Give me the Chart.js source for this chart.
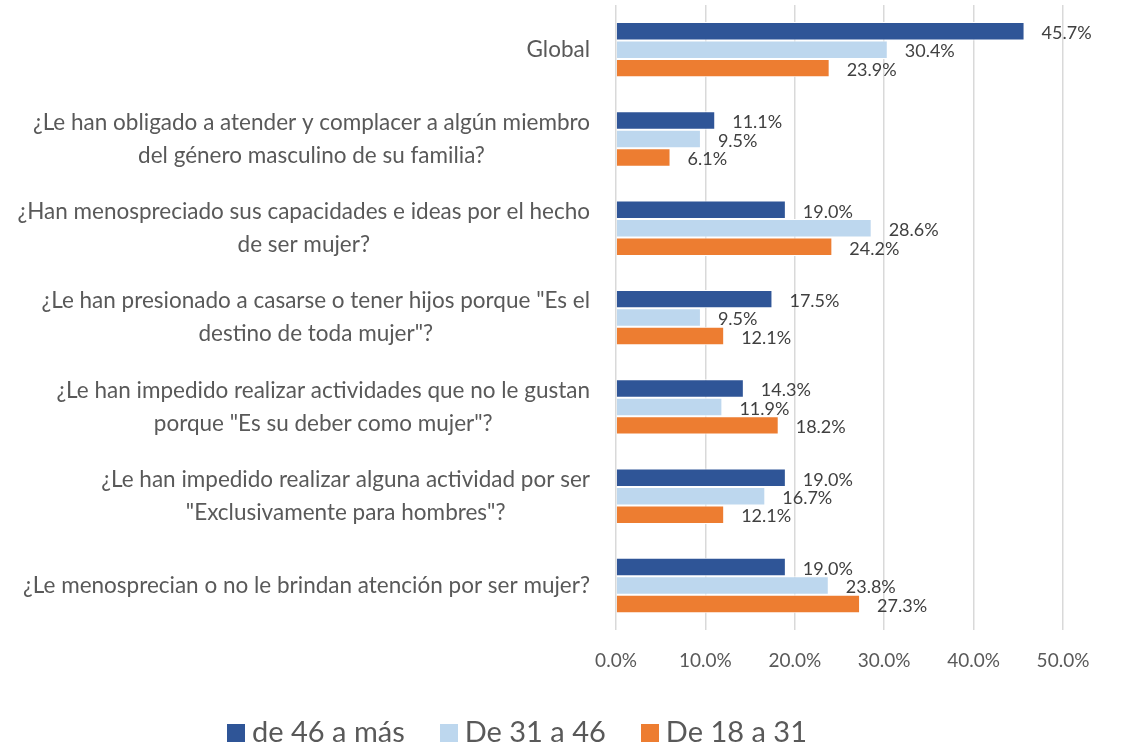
<!DOCTYPE html>
<html>
<head>
<meta charset="utf-8">
<script src="https://cdn.jsdelivr.net/npm/chart.js@4"></script>
<style>
html, body { margin: 0; padding: 0; background: #fff; }
#wrap { position: relative; width: 1125px; height: 744px; }
#legend {
  position: absolute; left: 227px; top: 713px;
  display: flex; align-items: center;
  font-family: Lato, sans-serif; font-size: 29px; line-height: 36px; color: #595959;
}
#legend .item { display: flex; align-items: center; margin-right: 35px; }
#legend .box { width: 18px; height: 18px; margin-right: 7px; margin-top: 4px; }
</style>
</head>
<body>
<div id="wrap">
  <canvas id="chart" width="1125" height="744"></canvas>
  <div id="legend"></div>
</div>
<script>
// categories (top to bottom)
const categories = [
  'Global',
  ['¿Le han obligado a atender y complacer a algún miembro', 'del género masculino de su familia?'],
  ['¿Han menospreciado sus capacidades e ideas por el hecho', 'de ser mujer?'],
  ['¿Le han presionado a casarse o tener hijos porque "Es el', 'destino de toda mujer"?'],
  ['¿Le han impedido realizar actividades que no le gustan', 'porque "Es su deber como mujer"?'],
  ['¿Le han impedido realizar alguna actividad por ser', '"Exclusivamente para hombres"?'],
  '¿Le menosprecian o no le brindan atención por ser mujer?'
];
const seriesNames = ['de 46 a más', 'De 31 a 46', 'De 18 a 31'];
const seriesColors = ['#2F5597', '#BDD7EE', '#ED7D31'];
const de46aMas = [45.7, 11.1, 19.0, 17.5, 14.3, 19.0, 19.0];
const de31a46 = [30.4, 9.5, 28.6, 9.5, 11.9, 16.7, 23.8];
const de18a31 = [23.9, 6.1, 24.2, 12.1, 18.2, 12.1, 27.3];
const xTicks = [0, 10, 20, 30, 40, 50];

const FONT = 'Lato';

// draws the value next to each bar end
const valueLabels = {
  id: 'valueLabels',
  afterDatasetsDraw(chart) {
    const ctx = chart.ctx;
    ctx.save();
    ctx.font = '18px ' + FONT;
    ctx.fillStyle = '#404040';
    ctx.textAlign = 'left';
    ctx.textBaseline = 'middle';
    chart.data.datasets.forEach((ds, i) => {
      chart.getDatasetMeta(i).data.forEach((bar, j) => {
        ctx.fillText(ds.data[j].toFixed(1) + '%', bar.x + 17, bar.y + 2);
      });
    });
    ctx.restore();
  }
};

// category labels: block right aligned, lines centered inside the block
const categoryLabels = {
  id: 'categoryLabels',
  afterDraw(chart) {
    const ctx = chart.ctx;
    const y = chart.scales.y;
    const right = chart.chartArea.left - 26;
    const lineH = 33;
    ctx.save();
    ctx.font = '22.5px ' + FONT;
    ctx.fillStyle = '#595959';
    ctx.textAlign = 'center';
    ctx.textBaseline = 'middle';
    categories.forEach((lab, i) => {
      const lines = Array.isArray(lab) ? lab : [lab];
      const w = Math.max(...lines.map(l => ctx.measureText(l).width));
      const cx = right - w / 2;
      const cy = y.getPixelForTick(i);
      lines.forEach((l, k) => {
        ctx.fillText(l, cx, cy + (k - (lines.length - 1) / 2) * lineH);
      });
    });
    ctx.restore();
  }
};

const chart = new Chart(document.getElementById('chart'), {
  type: 'bar',
  data: {
    labels: categories,
    datasets: [
      { label: seriesNames[0], data: de46aMas, backgroundColor: seriesColors[0] },
      { label: seriesNames[1], data: de31a46, backgroundColor: seriesColors[1] },
      { label: seriesNames[2], data: de18a31, backgroundColor: seriesColors[2] }
    ]
  },
  options: {
    indexAxis: 'y',
    responsive: false,
    animation: false,
    layout: { padding: { left: 0, right: 62, top: 5, bottom: 53 } },
    datasets: {
      bar: {
        categoryPercentage: 0.62,
        barPercentage: 1,
        borderWidth: 1,
        borderColor: '#ffffff'
      }
    },
    scales: {
      x: {
        min: 0,
        max: 50,
        afterBuildTicks: (scale) => { scale.ticks = xTicks.map(v => ({ value: v })); },
        grid: { color: '#d9d9d9', lineWidth: 1.5, drawTicks: false },
        border: { display: false },
        ticks: {
          padding: 19,
          color: '#595959',
          font: { family: FONT, size: 19 },
          callback: (v) => v.toFixed(1) + '%'
        }
      },
      y: {
        grid: { display: false },
        border: { display: false },
        ticks: { display: false },
        afterFit: (scale) => { scale.width = 616; }
      }
    },
    plugins: {
      legend: { display: false },
      tooltip: { enabled: false }
    }
  },
  plugins: [valueLabels, categoryLabels]
});

// legend built from the chart's datasets
const legendEl = document.getElementById('legend');
chart.data.datasets.forEach((ds) => {
  const item = document.createElement('div');
  item.className = 'item';
  const box = document.createElement('span');
  box.className = 'box';
  box.style.background = ds.backgroundColor;
  const txt = document.createElement('span');
  txt.textContent = ds.label;
  item.appendChild(box);
  item.appendChild(txt);
  legendEl.appendChild(item);
});
</script>
</body>
</html>
